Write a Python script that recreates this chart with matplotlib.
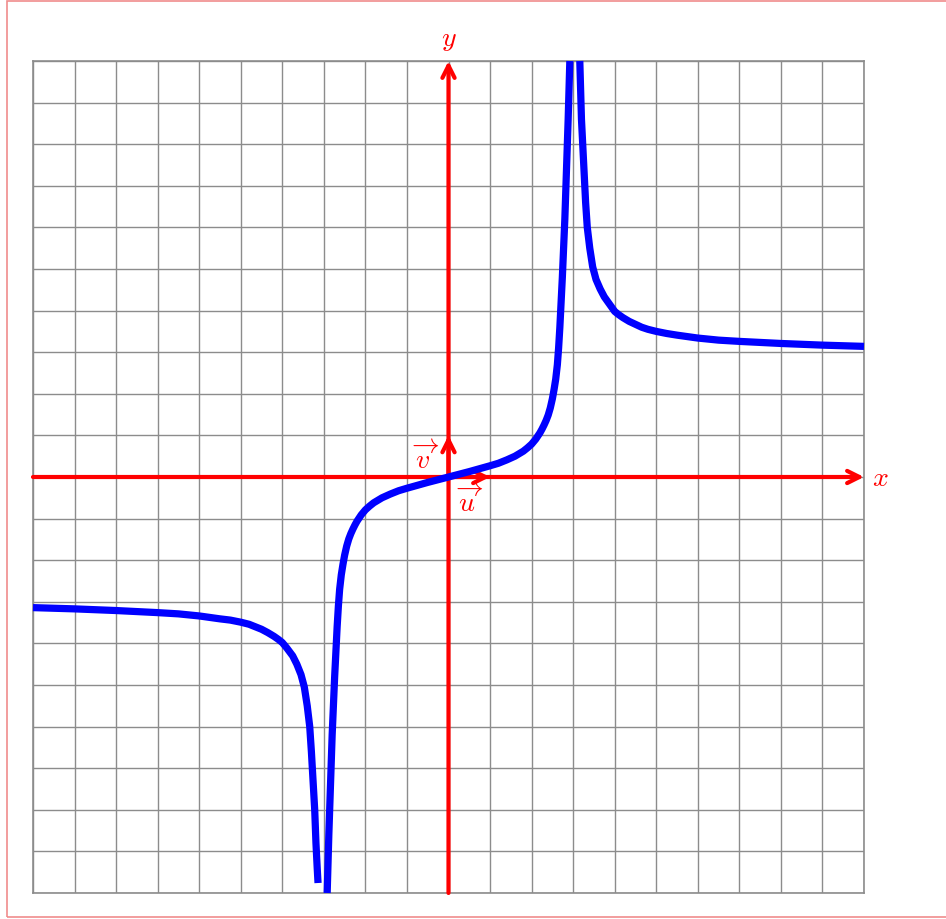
import matplotlib
matplotlib.use("Agg")
import matplotlib.pyplot as plt
from matplotlib.patches import Rectangle

plt.rcParams["mathtext.fontset"] = "cm"

# points, one list pair per branch of the curve
left_x = [-10, -9, -8, -7, -6.5, -6, -5.5, -5.25, -5, -4.8, -4.65, -4.5, -4.35, -4.2, -4.1, -4, -3.9,
          -3.75, -3.65, -3.55, -3.47, -3.4, -3.34, -3.3, -3.26, -3.22, -3.19, -3.16, -3.14]
left_y = [-3.14, -3.17, -3.21, -3.26, -3.29, -3.34, -3.41, -3.44, -3.49, -3.54, -3.6, -3.66, -3.74, -3.83,
          -3.9, -3.98, -4.1, -4.3, -4.5, -4.75, -5.05, -5.5, -6, -6.6, -7.3, -8, -8.8, -9.4, -9.76]

mid_x = [-2.92, -2.9, -2.88, -2.86, -2.84, -2.82, -2.8, -2.77, -2.74, -2.71, -2.68, -2.65, -2.62, -2.58,
         -2.54, -2.5, -2.45, -2.4, -2.35, -2.3, -2.25, -2.2, -2.1, -2.0, -1.9, -1.8, -1.6, -1.4, -1.2,
         -1.0, -0.75, -0.5, -0.25, 0,
         0.25, 0.5, 0.75, 1.0, 1.2, 1.4, 1.6, 1.8, 1.9, 2.0, 2.1, 2.2, 2.25, 2.3, 2.35, 2.4, 2.45, 2.5,
         2.54, 2.58, 2.62, 2.65, 2.68, 2.71, 2.74, 2.77, 2.8, 2.82, 2.84, 2.86, 2.88, 2.9, 2.92]
mid_y = [-10, -9.3, -8.6, -8, -7.4, -6.8, -6.2, -5.5, -4.8, -4.2, -3.6, -3.1, -2.7, -2.35,
         -2.1, -1.88, -1.66, -1.49, -1.36, -1.25, -1.15, -1.06, -0.91, -0.79, -0.7, -0.62, -0.5, -0.41, -0.33,
         -0.27, -0.2, -0.13, -0.065, 0,
         0.065, 0.13, 0.2, 0.27, 0.33, 0.41, 0.5, 0.62, 0.7, 0.79, 0.91, 1.06, 1.15, 1.25, 1.36, 1.49, 1.66, 1.88,
         2.1, 2.35, 2.7, 3.1, 3.6, 4.2, 4.8, 5.5, 6.2, 6.8, 7.4, 8, 8.6, 9.3, 10]

right_x = [3.16, 3.18, 3.2, 3.23, 3.26, 3.3, 3.34, 3.4, 3.47, 3.55, 3.65, 3.75, 3.9, 4.0, 4.1, 4.2,
           4.35, 4.5, 4.65, 4.8, 5.0, 5.25, 5.5, 6, 6.5, 7, 8, 9, 10]
right_y = [10, 9.3, 8.6, 8, 7.4, 6.6, 6.0, 5.5, 5.05, 4.75, 4.52, 4.33, 4.12, 3.98, 3.9, 3.83,
           3.74, 3.67, 3.6, 3.55, 3.5, 3.45, 3.41, 3.34, 3.29, 3.26, 3.21, 3.17, 3.14]

ticks = list(range(-10, 11))

fig = plt.figure(figsize=(9.46, 9.2), dpi=100)
fig.patches.append(Rectangle((6.5, 2), 960, 916, transform=None, fill=False,
                             edgecolor="#f08c8c", lw=1.2))

ax = fig.add_axes([33 / 946, 26 / 920, 831 / 946, 832 / 920])
ax.set_xlim(-10, 10)
ax.set_ylim(-10, 10)
ax.set_xticks(ticks)
ax.set_yticks(ticks)
ax.tick_params(length=0, labelbottom=False, labelleft=False)
ax.grid(True, color="#8c8c8c", lw=1)
for s in ax.spines.values():
    s.set_color("#8c8c8c")
    s.set_linewidth(1.2)

red = dict(arrowstyle="->", lw=3.0, color="red", shrinkA=0, shrinkB=0, mutation_scale=22)
ax.annotate("", xy=(10, 0), xytext=(-10, 0), arrowprops=red, annotation_clip=False)
ax.annotate("", xy=(0, 10), xytext=(0, -10), arrowprops=red, annotation_clip=False)
ax.annotate("", xy=(1, 0), xytext=(0, 0), arrowprops=red)
ax.annotate("", xy=(0, 1), xytext=(0, 0), arrowprops=red)

ax.text(10.4, 0, "$x$", color="red", fontsize=20, ha="center", va="center")
ax.text(0, 10.55, "$y$", color="red", fontsize=20, ha="center", va="center", clip_on=False)
ax.text(0.5, -0.55, r"$\overrightarrow{u}$", color="red", fontsize=20, ha="center", va="center")
ax.text(-0.55, 0.47, r"$\overrightarrow{v}$", color="red", fontsize=20, ha="center", va="center")

for xs, ys in [(left_x, left_y), (mid_x, mid_y), (right_x, right_y)]:
    ax.plot(xs, ys, color="blue", lw=5.2, solid_capstyle="butt", solid_joinstyle="round",
            clip_on=False, zorder=5)

fig.savefig("out.png", dpi=100)
